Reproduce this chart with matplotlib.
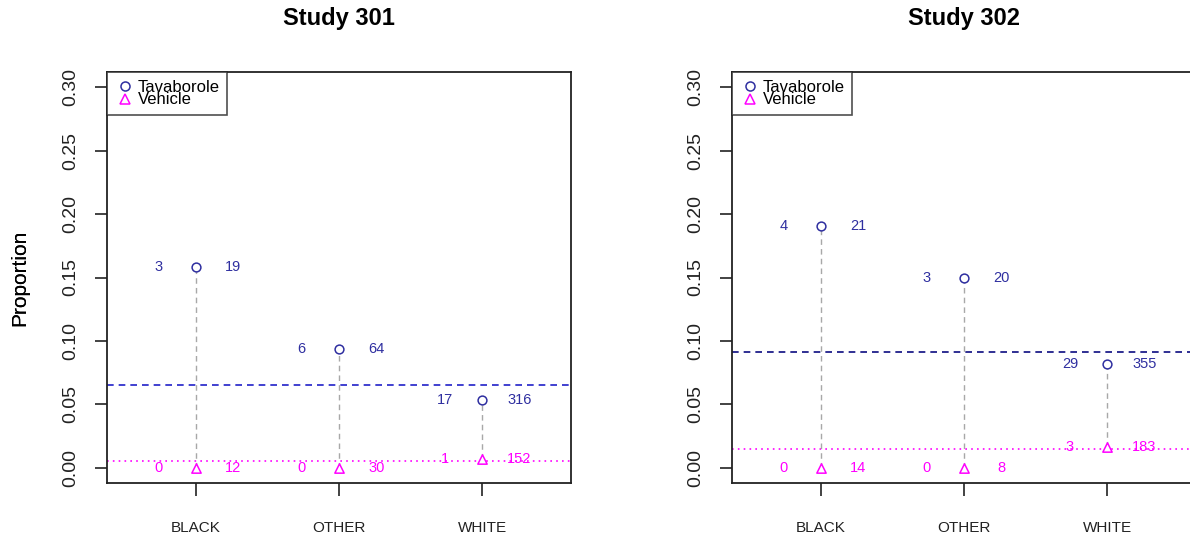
import matplotlib
matplotlib.use("Agg")
import matplotlib.pyplot as plt
from matplotlib.lines import Line2D

categories = ["BLACK", "OTHER", "WHITE"]
studies = ["Study 301", "Study 302"]
tav_events = [[3, 6, 17], [4, 3, 29]]
tav_n = [[19, 64, 316], [21, 20, 355]]
veh_events = [[0, 0, 1], [0, 0, 3]]
veh_n = [[12, 30, 152], [14, 8, 183]]
yticks = [0.00, 0.05, 0.10, 0.15, 0.20, 0.25, 0.30]

plt.rcParams['font.family'] = ['Liberation Sans', 'DejaVu Sans']

fig = plt.figure(figsize=(11.9, 5.41), dpi=100)
W, H = 1190, 541
axes_px = [(107, 72, 464, 411), (732, 72, 464, 411)]
tav_col = "#2f2fa0"
veh_col = "#ff00ff"
line_cols = ["#2020c8", "#0c0c80"]

for k, (px, py, pw, ph) in enumerate(axes_px):
    ax = fig.add_axes([px / W, 1 - (py + ph) / H, pw / W, ph / H])
    xs = [1, 2, 3]
    tp = [e / n for e, n in zip(tav_events[k], tav_n[k])]
    vp = [e / n for e, n in zip(veh_events[k], veh_n[k])]
    tav_all = sum(tav_events[k]) / sum(tav_n[k])
    veh_all = sum(veh_events[k]) / sum(veh_n[k])
    ax.axhline(tav_all, color=line_cols[k], ls=(0, (4, 3)), lw=1.2, zorder=1)
    ax.axhline(veh_all, color=veh_col, ls=(0, (1, 2.5)), lw=1.2, zorder=1)
    for x, a, b in zip(xs, tp, vp):
        ax.plot([x, x], [b, a], color="#a8a8a8", ls=(0, (4, 3)), lw=1.0, zorder=2)
    ax.scatter(xs, tp, marker="o", s=40, facecolors="white", edgecolors=tav_col, linewidths=1.1, zorder=3)
    ax.scatter(xs, vp, marker="^", s=45, facecolors="white", edgecolors=veh_col, linewidths=1.1, zorder=3)
    for x, a, e, n in zip(xs, tp, tav_events[k], tav_n[k]):
        ax.text(x - 0.26, a, str(e), color=tav_col, fontsize=10.5, ha="center", va="center", zorder=4)
        ax.text(x + 0.26, a, str(n), color=tav_col, fontsize=10.5, ha="center", va="center", zorder=4)
    for x, b, e, n in zip(xs, vp, veh_events[k], veh_n[k]):
        ax.text(x - 0.26, b, str(e), color=veh_col, fontsize=10.5, ha="center", va="center", zorder=4)
        ax.text(x + 0.26, b, str(n), color=veh_col, fontsize=10.5, ha="center", va="center", zorder=4)
    ax.set_xlim(0.38, 3.62)
    ax.set_ylim(-0.012, 0.312)
    ax.set_xticks(xs)
    ax.set_xticklabels(categories, fontsize=11)
    ax.set_yticks(yticks)
    ax.set_yticklabels([f"{v:.2f}" for v in yticks], rotation=90, va="center", fontsize=14)
    ax.tick_params(axis="x", length=9, width=1.2, pad=18, colors="#222222")
    ax.tick_params(axis="y", length=9, width=1.2, pad=11, colors="#222222")
    for s in ax.spines.values():
        s.set_linewidth(1.3)
        s.set_color("#222222")
    ax.set_ylabel("Proportion", fontsize=15)
    ax.yaxis.set_label_coords((29 - px) / pw, 0.5)
    fig.text((px + pw / 2) / W, 1 - 19 / H, studies[k], fontsize=17, fontweight="bold",
             ha="center", va="center")
    handles = [Line2D([], [], marker="o", ls="none", mfc="white", mec=tav_col, ms=6.5, mew=1.1),
               Line2D([], [], marker="^", ls="none", mfc="white", mec=veh_col, ms=7, mew=1.1)]
    leg = ax.legend(handles, ["Tavaborole", "Vehicle"], loc="upper left", fontsize=12,
                    frameon=True, fancybox=False, edgecolor="#222222", borderpad=0.45,
                    labelspacing=-0.12, handletextpad=0.2, handlelength=1.2, borderaxespad=0)
    leg.get_frame().set_linewidth(1.2)

fig.savefig("out.png", dpi=100)
